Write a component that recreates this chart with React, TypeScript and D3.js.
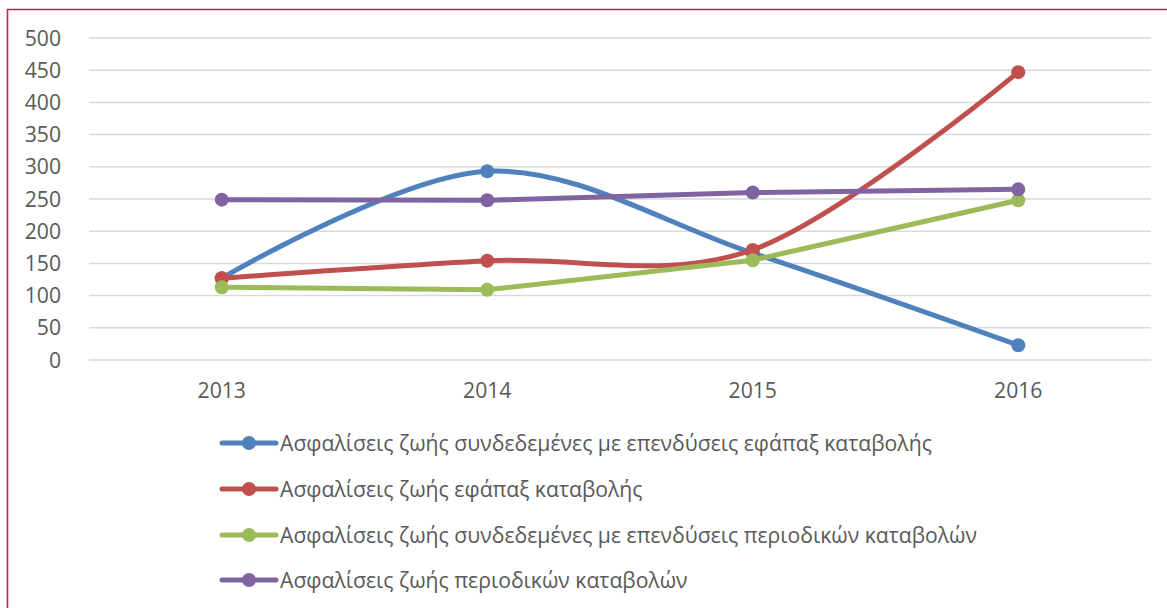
import React from "react";
import * as d3 from "d3";

const years = ["2013", "2014", "2015", "2016"];
const yTicks = [0, 50, 100, 150, 200, 250, 300, 350, 400, 450, 500];
const seriesNames = [
  "Ασφαλίσεις ζωής συνδεδεμένες με επενδύσεις εφάπαξ καταβολής",
  "Ασφαλίσεις ζωής εφάπαξ καταβολής",
  "Ασφαλίσεις ζωής συνδεδεμένες με επενδύσεις περιοδικών καταβολών",
  "Ασφαλίσεις ζωής περιοδικών καταβολών",
];
const blueValues = [127, 293, 166, 23];
const redValues = [127, 154, 171, 447];
const greenValues = [113, 109, 155, 248];
const purpleValues = [249, 248, 260, 265];
const smoothed = [true, true, false, false];
const colors = ["#4F81BD", "#C0504D", "#9BBB59", "#8064A2"];

const W = 1167;
const H = 608;
const FONT = "'Open Sans', sans-serif";
const FS = 21.2;

export default function App() {
  if (typeof document !== "undefined") document.body.style.margin = "0";
  const all = [blueValues, redValues, greenValues, purpleValues];
  const x = d3.scaleBand().domain(years).range([89, 1151]);
  const y = d3.scaleLinear().domain([0, 500]).range([360, 38]);
  const cx = (i: number) => (x(years[i]) as number) + x.bandwidth() / 2;
  const mk = (smooth: boolean) =>
    d3
      .line<number>()
      .x((_, i) => cx(i))
      .y((v) => y(v))
      .curve(smooth ? d3.curveCatmullRom.alpha(0) : d3.curveLinear);
  const legendY = [443, 489, 535, 580];
  return (
    <svg width={W} height={H} style={{ display: "block", background: "#fff" }}>
      <rect x={0} y={0} width={W} height={H} fill="#fff" />
      <line x1={7.5} x2={W} y1={9.5} y2={9.5} stroke="#D0145A" strokeWidth={1.6} />
      <line x1={7.5} x2={7.5} y1={9} y2={H} stroke="#D0145A" strokeWidth={1.6} />
      {yTicks.map((t) => (
        <g key={t}>
          <line x1={89} x2={1151} y1={y(t)} y2={y(t)} stroke="#D9D9D9" strokeWidth={1.5} />
          <text x={61} y={y(t)} dy="0.36em" textAnchor="end" fontFamily={FONT} fontSize={FS} fill="#595959">
            {t}
          </text>
        </g>
      ))}
      {years.map((yr, i) => (
        <text key={yr} x={cx(i)} y={397.5} textAnchor="middle" fontFamily={FONT} fontSize={FS} fill="#595959">
          {yr}
        </text>
      ))}
      {all.map((vals, si) => (
        <g key={si}>
          <path d={mk(smoothed[si])(vals) || ""} fill="none" stroke={colors[si]} strokeWidth={5} strokeLinecap="round" strokeLinejoin="round" />
          {vals.map((v, i) => (
            <circle key={i} cx={cx(i)} cy={y(v)} r={7} fill={colors[si]} />
          ))}
        </g>
      ))}
      {seriesNames.map((name, si) => (
        <g key={name}>
          <line x1={222} x2={276} y1={legendY[si]} y2={legendY[si]} stroke={colors[si]} strokeWidth={5} strokeLinecap="round" />
          <circle cx={249} cy={legendY[si]} r={7} fill={colors[si]} />
          <text x={280} y={legendY[si]} dy="0.36em" fontFamily={FONT} fontSize={FS} fill="#595959">
            {name}
          </text>
        </g>
      ))}
    </svg>
  );
}
